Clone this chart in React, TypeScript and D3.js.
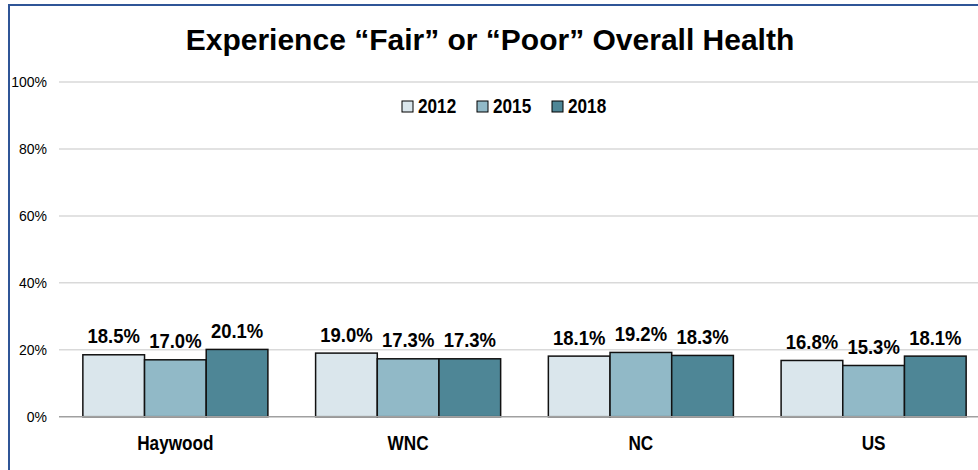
import React, { useEffect, useRef } from 'react';
import * as d3 from 'd3';

const title = 'Experience \u201cFair\u201d or \u201cPoor\u201d Overall Health';
const categories = ['Haywood', 'WNC', 'NC', 'US'];
const years = ['2012', '2015', '2018'];
const values2012 = [18.5, 19.0, 18.1, 16.8];
const values2015 = [17.0, 17.3, 19.2, 15.3];
const values2018 = [20.1, 17.3, 18.3, 18.1];
const yTicks = [0, 20, 40, 60, 80, 100];
const colors = ['#dae6ec', '#91b9c7', '#4e8696'];

type Sel = d3.Selection<any, any, any, any>;

// bold text squeezed horizontally, to look like Arial Narrow
function narrowText(parent: Sel, x: number, y: number, txt: string, size: number, anchor = 'middle', sx = 0.86) {
  parent.append('g').attr('transform', `translate(${x},${y}) scale(${sx},1)`)
    .append('text').attr('text-anchor', anchor)
    .attr('font-family', '"Liberation Sans", Arial, sans-serif').attr('font-weight', 'bold')
    .attr('font-size', size).attr('fill', '#000').text(txt);
}

export default function App() {
  const svgRef = useRef<SVGSVGElement>(null);

  useEffect(() => {
    if (!svgRef.current) return;
    const svg = d3.select(svgRef.current);
    svg.selectAll('*').remove();

    const series = [values2012, values2015, values2018];
    const left = 59, right = 990, top = 82, bottom = 416.7;
    const sans = '"Liberation Sans", Arial, sans-serif';

    const x0 = d3.scaleBand().domain(categories).range([left, right]).paddingInner(0.205).paddingOuter(0.1025);
    const x1 = d3.scaleBand().domain(years).range([0, x0.bandwidth()]);
    const y = d3.scaleLinear().domain([0, 100]).range([bottom, top]);

    // frame
    svg.append('rect').attr('x', 9).attr('y', 5).attr('width', 1100).attr('height', 600)
      .attr('fill', 'white').attr('stroke', '#2f5597').attr('stroke-width', 2);

    svg.append('text').attr('x', 490).attr('y', 50).attr('text-anchor', 'middle')
      .attr('font-family', sans).attr('font-weight', 'bold').attr('font-size', 30).attr('fill', '#000')
      .text(title);

    // gridlines + tick labels
    svg.append('g').selectAll('line').data(yTicks.filter(t => t > 0)).enter().append('line')
      .attr('x1', left).attr('x2', right).attr('y1', d => y(d)).attr('y2', d => y(d))
      .attr('stroke', '#d9d9d9').attr('stroke-width', 1.5);
    svg.append('g').selectAll('text').data(yTicks).enter().append('text')
      .attr('x', 47).attr('y', d => y(d)).attr('dy', '0.35em').attr('text-anchor', 'end')
      .attr('font-family', sans).attr('font-size', 14).attr('fill', '#000')
      .text(d => `${d}%`);

    // legend
    const legend = svg.append('g');
    years.forEach((yr, i) => {
      const lx = 402 + i * 75;
      legend.append('rect').attr('x', lx).attr('y', 101).attr('width', 11).attr('height', 11)
        .attr('fill', colors[i]).attr('stroke', '#000').attr('stroke-width', 1);
      narrowText(legend, lx + 16, 113, yr, 20, 'start');
    });

    // bars
    const barLayer = svg.append('g');
    categories.forEach((cat, ci) => {
      years.forEach((yr, si) => {
        const v = series[si][ci];
        const bx = x0(cat)! + x1(yr)!;
        barLayer.append('rect').attr('x', bx).attr('y', y(v)).attr('width', x1.bandwidth())
          .attr('height', bottom - y(v)).attr('fill', colors[si]).attr('stroke', '#111').attr('stroke-width', 1.5);
        narrowText(barLayer, bx + x1.bandwidth() / 2, y(v) - 11.5, `${v.toFixed(1)}%`, 21, 'middle', 0.88);
      });
    });

    // baseline
    svg.append('line').attr('x1', left).attr('x2', right).attr('y1', bottom).attr('y2', bottom)
      .attr('stroke', '#a0a0a0').attr('stroke-width', 1.5);

    // category labels
    const catLayer = svg.append('g');
    categories.forEach(cat => {
      narrowText(catLayer, x0(cat)! + x0.bandwidth() / 2, 450, cat, 20);
    });
  }, []);

  return (
    <svg ref={svgRef} width={978} height={470}
      style={{ position: 'absolute', left: 0, top: 0, background: '#fff' }} />
  );
}
